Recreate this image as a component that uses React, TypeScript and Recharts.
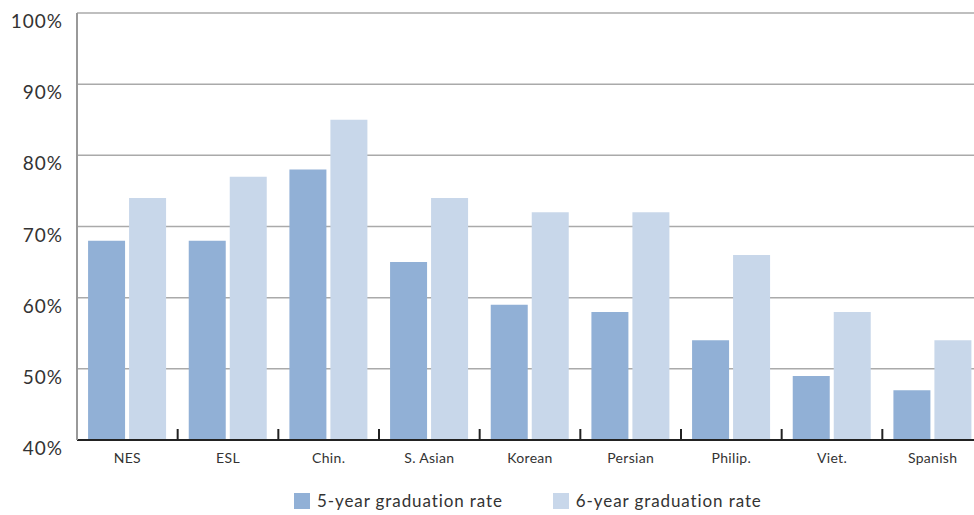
import React from 'react';
import { BarChart, Bar, XAxis, YAxis, CartesianGrid, Legend } from 'recharts';

// Graduation rates by language group (percent)
const groups = ['NES', 'ESL', 'Chin.', 'S. Asian', 'Korean', 'Persian', 'Philip.', 'Viet.', 'Spanish'];
const fiveYearRate = [68, 68, 78, 65, 59, 58, 54, 49, 47];
const sixYearRate = [74, 77, 85, 74, 72, 72, 66, 58, 54];
const percentTicks = [40, 50, 60, 70, 80, 90, 100];
const seriesNames = ['5-year graduation rate', '6-year graduation rate'];
const seriesColors = ['#91b0d6', '#c8d7ea'];

const data = groups.map((group, i) => ({
  group,
  five: fiveYearRate[i],
  six: sixYearRate[i],
}));

const FONT = 'Lato, "Open Sans", sans-serif';

// Category label plus an inward tick mark on the right boundary of each band
const GroupTick = (props: any) => {
  const { x, y, payload } = props;
  const half = payload && payload.offset ? payload.offset : 0;
  return (
    <g>
      <line x1={x + half} x2={x + half} y1={y} y2={y - 11} stroke="#222" strokeWidth={2} />
      <text x={x} y={y + 23} textAnchor="middle" fontSize={14} letterSpacing={0.3} fill="#333" fontFamily={FONT}>
        {payload.value}
      </text>
    </g>
  );
};

const PercentTick = (props: any) => {
  const { x, y, payload } = props;
  return (
    <text x={x} y={y} dy={15} textAnchor="end" fontSize={19} letterSpacing={1} fill="#333" fontFamily={FONT}>
      {payload.value}%
    </text>
  );
};

const LegendRow = () => (
  <div style={{ height: 31, width: 990, boxSizing: 'border-box', paddingTop: 9, paddingLeft: 294, display: 'flex', fontFamily: FONT }}>
    {seriesNames.map((name, i) => (
      <div key={name} style={{ display: 'flex', alignItems: 'center', height: 16, marginRight: i === 0 ? 50 : 0 }}>
        <div style={{ width: 16, height: 16, background: seriesColors[i] }} />
        <span style={{ marginLeft: 7, fontSize: 17, letterSpacing: 0.9, lineHeight: '16px', color: '#333', whiteSpace: 'nowrap' }}>{name}</span>
      </div>
    ))}
  </div>
);

export default function App() {
  return (
    <div style={{ position: 'fixed', left: 0, top: 0, width: 974, height: 515, overflow: 'hidden', background: '#fff' }}>
      <BarChart
        width={990}
        height={515}
        data={data}
        margin={{ top: 13, right: 7, bottom: 0, left: 0 }}
        barCategoryGap="11%"
        barGap={4}
      >
        <CartesianGrid vertical={false} stroke="#aaaaaa" strokeWidth={1.5} />
        <XAxis
          dataKey="group"
          height={44}
          interval={0}
          tickSize={0}
          tickMargin={0}
          tickLine={false}
          axisLine={{ stroke: '#222', strokeWidth: 2 }}
          tick={<GroupTick />}
        />
        <YAxis
          width={77}
          domain={[40, 100]}
          ticks={percentTicks}
          allowDataOverflow
          tickSize={0}
          tickMargin={14}
          tickLine={false}
          axisLine={{ stroke: '#999', strokeWidth: 2 }}
          tick={<PercentTick />}
        />
        <Legend verticalAlign="bottom" wrapperStyle={{ left: 0, width: 990 }} content={<LegendRow />} />
        <Bar dataKey="five" name={seriesNames[0]} fill={seriesColors[0]} isAnimationActive={false} />
        <Bar dataKey="six" name={seriesNames[1]} fill={seriesColors[1]} isAnimationActive={false} />
      </BarChart>
    </div>
  );
}
